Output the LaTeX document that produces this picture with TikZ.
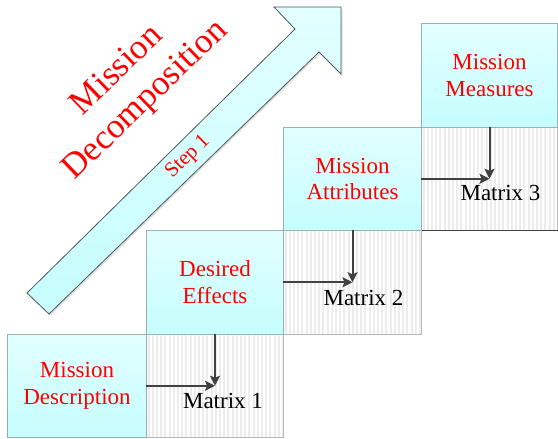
\documentclass[tikz,border=0pt]{standalone}
\usepackage{fontspec}
\setmainfont{Liberation Serif}
\usetikzlibrary{arrows.meta,shadows}
\definecolor{boxtop}{RGB}{226,255,255}
\definecolor{boxbot}{RGB}{198,253,253}
\definecolor{boxline}{RGB}{150,178,178}
\definecolor{matline}{RGB}{185,185,185}
\definecolor{stripecol}{RGB}{236,236,236}
\definecolor{conncol}{RGB}{64,64,64}
\definecolor{arrline}{RGB}{80,88,88}
\tikzset{
  stage/.style={draw=boxline, line width=0.8pt, top color=boxtop, bottom color=boxbot,
    minimum height=103.5pt, inner sep=0pt, align=center, text=red,
    font=\fontsize{23}{26.5}\selectfont},
  matrixcell/.style={draw=matline, line width=0.8pt, minimum height=103.5pt, inner sep=0pt,
    path picture={
      \foreach \k in {0,...,34}
        \fill[stripecol] ([xshift=\k*4.2pt+1pt]path picture bounding box.north west)
          rectangle ++(2pt,-110pt);
    }},
  conn/.style={draw=conncol, line width=2pt, -{Stealth[length=10pt,width=10pt,inset=2pt]}},
  mlabel/.style={font=\fontsize{23}{26}\selectfont, text=black, inner sep=0pt},
  bigarrow/.style={draw=arrline, line width=0.8pt, top color=boxtop, bottom color=boxbot,
    drop shadow={opacity=0.25, shadow xshift=1.5pt, shadow yshift=-1.5pt}},
}
\begin{document}
\begin{tikzpicture}[x=1pt,y=-1pt]
\useasboundingbox (0,0) rectangle (558,439);

% rising arrow
\path[bigarrow] (27,293) -- (295,29) -- (274,7) -- (341,7) -- (341,74)
  -- (319,52) -- (49,314) -- cycle;
\node[rotate=44.5, text=red, font=\fontsize{21}{24}\selectfont] (step) at (188,157) {Step 1};
\node[rotate=44, text=red, align=center, font=\fontsize{35}{41}\selectfont] (title) at (132,86)
  {Mission\\Decomposition};

% matrix cells
\node[matrixcell, minimum width=137pt] (m1) at (215,385.75) {};
\node[matrixcell, minimum width=138pt] (m2) at (352.5,282.25) {};
\node[matrixcell, minimum width=136pt] (m3) at (489.5,178.75) {};
\draw[conncol, line width=1pt] (m3.south west) -- (m3.south east);

% stages
\node[stage, minimum width=139pt] (desc) at (77,385.75) {Mission\\Description};
\node[stage, minimum width=137pt] (eff)  at (215,282.25) {Desired\\Effects};
\node[stage, minimum width=138pt] (attr) at (352.5,178.75) {Mission\\Attributes};
\node[stage, minimum width=136pt] (meas) at (489.5,75.25) {Mission\\Measures};

% matrix labels
\node[mlabel] (l1) at ([xshift=8pt,yshift=-15pt]m1.center) {Matrix 1};
\node[mlabel] (l2) at ([xshift=11pt,yshift=-16pt]m2.center) {Matrix 2};
\node[mlabel] (l3) at ([xshift=11pt,yshift=-14pt]m3.center) {Matrix 3};

% connectors
\draw[conn] (m1.north) -- (m1.center);
\draw[conn] (m1.west) -- (m1.center);
\draw[conn] (m2.north) -- (m2.center);
\draw[conn] (m2.west) -- (m2.center);
\draw[conn] (m3.north) -- (m3.center);
\draw[conn] (m3.west) -- (m3.center);
\end{tikzpicture}
\end{document}
